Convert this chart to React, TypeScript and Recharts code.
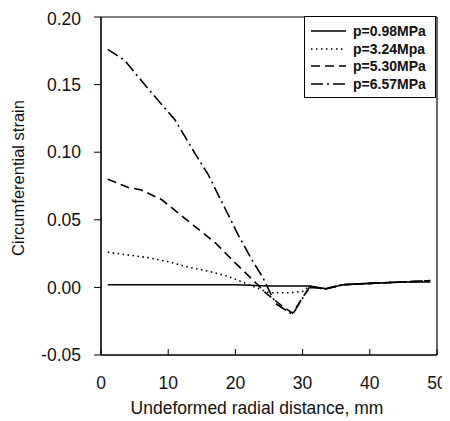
import React from 'react';
import { LineChart, Line, XAxis, YAxis, ReferenceLine } from 'recharts';

// readings taken off the scanned figure
const dist098 = [1, 10, 20, 25, 30, 31, 33.5, 36, 40, 45, 49];
const strain098 = [0.002, 0.002, 0.002, 0.001, 0.001, 0.001, -0.001, 0.002, 0.003, 0.004, 0.004];

const dist324 = [1, 4, 7, 10, 13, 16, 19, 22, 24, 25, 28, 30, 31, 33.5, 36, 40, 45, 49];
const strain324 = [0.026, 0.024, 0.022, 0.019, 0.015, 0.012, 0.008, 0.002, -0.002, -0.004, -0.004, -0.003, 0.001, -0.001, 0.002, 0.003, 0.004, 0.005];

const dist530 = [1, 4, 6, 9, 11, 14, 17, 20, 22.5, 24.5, 27, 28.5, 31, 33.5, 36, 40, 45, 49];
const strain530 = [0.08, 0.074, 0.072, 0.065, 0.057, 0.045, 0.033, 0.018, 0.006, -0.004, -0.014, -0.019, 0.0, -0.001, 0.002, 0.003, 0.004, 0.005];

const dist657 = [1, 3.5, 7, 11, 14, 16, 18.5, 20.5, 22.5, 24, 26, 28.5, 31, 33.5, 36, 40, 45, 49];
const strain657 = [0.176, 0.168, 0.147, 0.124, 0.099, 0.083, 0.058, 0.038, 0.02, 0.008, -0.012, -0.02, 0.0, -0.001, 0.002, 0.003, 0.004, 0.005];

const xTicks = [0, 10, 20, 30, 40, 50];
const yTicks = [-0.05, 0, 0.05, 0.1, 0.15, 0.2];

const zip = (xs: number[], ys: number[]) => xs.map((x, i) => ({ x, v: ys[i] }));

const series = [
  { name: 'p=0.98MPa', data: zip(dist098, strain098), dash: undefined },
  { name: 'p=3.24Mpa', data: zip(dist324, strain324), dash: '1.5 3.5' },
  { name: 'p=5.30MPa', data: zip(dist530, strain530), dash: '9 5' },
  { name: 'p=6.57MPa', data: zip(dist657, strain657), dash: '12 4 2 4' },
];

const font = 'Arial, "Liberation Sans", sans-serif';

const LegendBox = () => (
  <div style={{ position: 'absolute', left: 296, top: 8, width: 132, height: 82, boxSizing: 'border-box', border: '1px solid #000', background: '#fff', padding: '5px 0 0 0', fontFamily: font }}>
    {series.map(s => (
      <div key={s.name} style={{ display: 'flex', alignItems: 'center', height: 17.7 }}>
        <svg width={44} height={10} style={{ marginLeft: 4 }}>
          <line x1={2} y1={5} x2={37} y2={5} stroke="#000" strokeWidth={1.6} strokeDasharray={s.dash} />
        </svg>
        <span style={{ fontSize: 14, fontWeight: 'bold', color: '#111' }}>{s.name}</span>
      </div>
    ))}
  </div>
);

export default function App() {
  return (
    <div style={{ position: 'relative', width: 442, height: 413, fontFamily: font, color: '#111' }}>
      <LineChart width={442} height={413} margin={{ top: 9, right: 13, bottom: 0, left: 0 }}>
        <XAxis
          xAxisId="b"
          dataKey="x"
          type="number"
          domain={[0, 50]}
          ticks={xTicks}
          height={66}
          stroke="#000"
          tickSize={-6}
          tickMargin={28}
          tick={{ fill: '#111', fontSize: 17.5, fontFamily: font }}
        />
        <YAxis
          yAxisId="l"
          type="number"
          domain={[-0.05, 0.2]}
          ticks={yTicks}
          width={93}
          stroke="#000"
          tickSize={7}
          tickMargin={13}
          tickFormatter={(v: number) => v.toFixed(2)}
          tick={{ fill: '#111', fontSize: 17.5, fontFamily: font }}
        />
        <ReferenceLine xAxisId="b" yAxisId="l" y={0.2} stroke="#000" strokeWidth={1.2} />
        <ReferenceLine xAxisId="b" yAxisId="l" y={-0.05} stroke="#000" strokeWidth={1.2} />
        <ReferenceLine xAxisId="b" yAxisId="l" x={0} stroke="#000" strokeWidth={1.2} />
        <ReferenceLine xAxisId="b" yAxisId="l" x={50} stroke="#000" strokeWidth={1.2} />
        {series.map(s => (
          <Line
            key={s.name}
            xAxisId="b"
            yAxisId="l"
            data={s.data}
            dataKey="v"
            name={s.name}
            type="linear"
            stroke="#000"
            strokeWidth={1.6}
            strokeDasharray={s.dash}
            dot={false}
            isAnimationActive={false}
          />
        ))}
      </LineChart>
      {/* axis titles */}
      <div style={{ position: 'absolute', left: 89, top: 390, width: 320, lineHeight: '20px', fontSize: 17.5, textAlign: 'center' }}>
        Undeformed radial distance, mm
      </div>
      <div style={{ position: 'absolute', left: -100, top: 160, width: 220, lineHeight: '20px', fontSize: 16.5, textAlign: 'center', transform: 'rotate(-90deg)' }}>
        Circumferential strain
      </div>
      <LegendBox />
    </div>
  );
}
